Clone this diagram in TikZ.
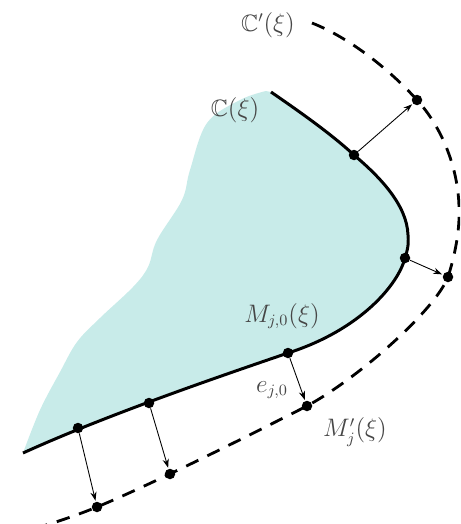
\documentclass[tikz,border=0pt]{standalone}
\usepackage{amssymb}
\usetikzlibrary{arrows.meta}
\definecolor{regionfill}{RGB}{200,235,233}
\definecolor{labelgray}{RGB}{70,70,70}
\begin{document}
\begin{tikzpicture}[x=0.02cm,y=-0.02cm,
  dot/.style={circle,fill=black,inner sep=0pt,minimum size=0.21cm},
  boundary/.style={line width=1.7pt},
  offset/.style={line width=1.6pt,dash pattern=on 0.27cm off 0.2cm},
  normal/.style={line width=0.5pt,-{Stealth[length=5pt,width=3.5pt]},shorten >=0.5pt},
  lbl/.style={text=labelgray,inner sep=0pt,font=\fontsize{13.5}{16}\selectfont}]
\useasboundingbox (0,0) rectangle (460,524);
\begin{scope}
\clip (0,0) rectangle (460,524);
% shaded region
\fill[regionfill] (271,92) .. controls (300,112) and (330,133) .. (354,155)
  .. controls (380,177) and (407,205) .. (408,235)
  .. controls (409,245) and (407,252) .. (405,258)
  .. controls (398,285) and (360,330) .. (288,353)
  .. controls (200,383) and (100,418) .. (23,453)
  -- plot[smooth,tension=0.6] coordinates {(23,453) (40,410) (60,372) (77,342) (100,318) (133,287) (148,267) (157,240) (182,200) (190,170) (207,123) (240,100) (266,91)} -- cycle;
% boundary C(xi)
\draw[boundary] (271,92) .. controls (300,112) and (330,133) .. (354,155)
  .. controls (380,177) and (407,205) .. (408,235)
  .. controls (409,245) and (407,252) .. (405,258)
  .. controls (398,285) and (360,330) .. (288,353)
  .. controls (200,383) and (100,418) .. (23,453);
% offset curve C'(xi)
\draw[offset] (312,23) .. controls (350,38) and (390,70) .. (417,100)
  .. controls (440,125) and (458,165) .. (459,207)
  .. controls (460,230) and (455,255) .. (448,277)
  .. controls (435,310) and (360,377) .. (307,406)
  .. controls (240,440) and (150,485) .. (97,507)
  .. controls (60,522) and (30,530) .. (0,538);
\end{scope}
% points
\node[dot] (a1) at (354,155) {};
\node[dot] (a2) at (405,258) {};
\node[dot] (a3) at (288,353) {};
\node[dot] (a4) at (149,403) {};
\node[dot] (a5) at (78,428) {};
\node[dot] (b1) at (417,100) {};
\node[dot] (b2) at (448,277) {};
\node[dot] (b3) at (307,406) {};
\node[dot] (b4) at (170,474) {};
\node[dot] (b5) at (97,507) {};
% normals
\draw[normal] (a1) -- (b1);
\draw[normal] (a2) -- (b2);
\draw[normal] (a3) -- (b3);
\draw[normal] (a4) -- (b4);
\draw[normal] (a5) -- (b5);
% labels
\node[lbl] (lcp) at (268,25) {$\mathbb{C}'(\xi)$};
\node[lbl] (lc) at (235,110) {$\mathbb{C}(\xi)$};
\node[lbl] (lm) at (282,316) {$M_{j,0}(\xi)$};
\node[lbl] (le) at (272,390) {$e_{j,0}$};
\node[lbl] (lmp) at (355,432) {$M'_{j}(\xi)$};
\end{tikzpicture}
\end{document}
